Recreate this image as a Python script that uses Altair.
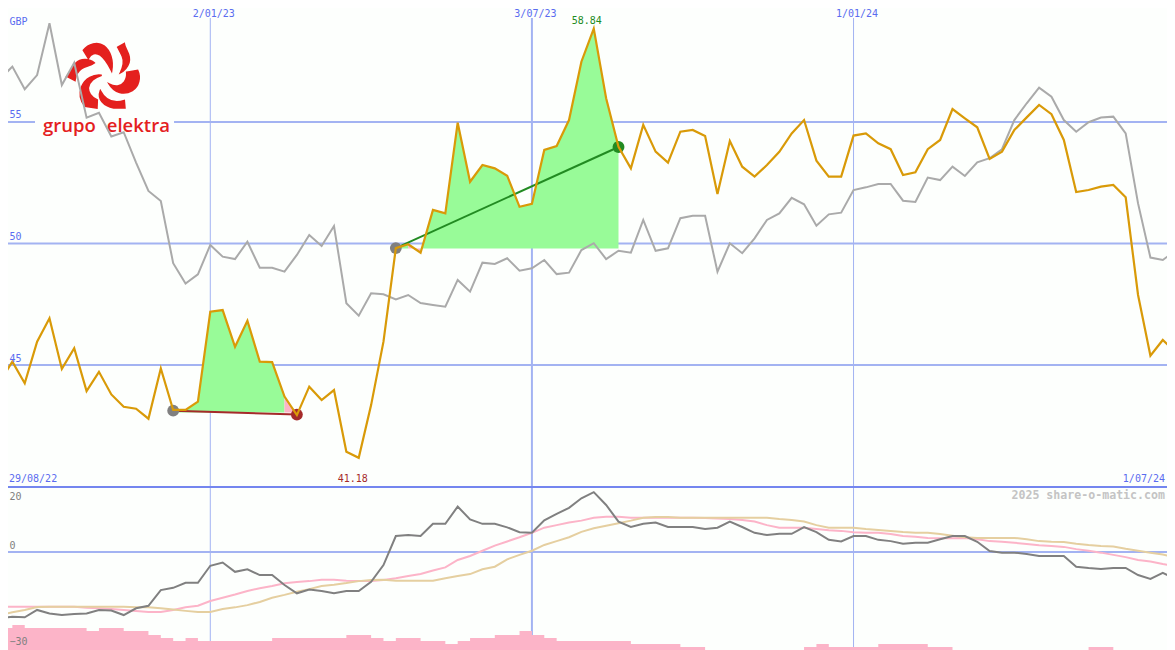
import altair as alt
import pandas as pd

FIRST_WEEK = "2022-09-05"
WEEKS = 96

price = [44.31,45.14,44.25,45.96,46.92,44.84,45.69,43.93,44.72,43.79,43.28,43.20,42.79,44.86,43.15,43.15,43.49,47.19,47.26,45.75,
         46.82,45.14,45.12,43.70,42.94,44.11,43.56,43.97,41.43,41.18,43.35,45.96,49.81,49.97,49.62,51.38,51.24,54.97,52.54,53.23,
         53.09,52.79,51.51,51.63,53.85,54.01,55.08,57.48,58.84,55.98,53.98,53.09,54.88,53.78,53.33,54.60,54.67,54.42,52.04,54.22,
         53.16,52.75,53.23,53.77,54.53,55.08,53.41,52.75,52.75,54.44,54.53,54.12,53.88,52.82,52.93,53.88,54.26,55.53,55.15,54.78,
         53.48,53.78,54.67,55.19,55.70,55.32,54.26,52.12,52.20,52.34,52.41,51.90,47.88,45.38,46.03,45.55]
index_line = [56.76,57.28,56.35,56.93,59.06,56.52,57.44,55.18,55.38,54.40,54.58,53.33,52.16,51.75,49.19,48.35,48.73,49.94,49.46,49.36,
              50.07,49.00,49.00,48.84,49.53,50.35,49.90,50.72,47.54,47.03,47.95,47.91,47.70,47.88,47.55,47.47,47.40,48.50,48.02,49.21,
              49.16,49.39,48.88,48.98,49.32,48.74,48.80,49.73,50.01,49.36,49.70,49.62,50.97,49.70,49.80,51.04,51.14,51.14,48.84,50.01,
              49.60,50.21,50.97,51.24,51.88,51.61,50.73,51.20,51.27,52.20,52.31,52.45,52.45,51.76,51.71,52.71,52.61,53.16,52.78,53.34,
              53.51,53.88,55.08,55.77,56.41,56.04,55.08,54.60,54.99,55.18,55.22,54.53,51.65,49.42,49.32,49.70]
momentum = [-20.7,-20.2,-20.4,-18.1,-19.2,-19.7,-19.4,-19.2,-18.1,-18.3,-19.7,-17.6,-16.8,-11.9,-11.2,-9.6,-9.6,-4.3,-3.3,-6.2,
            -5.4,-7.2,-7.2,-10.3,-12.9,-11.7,-12.2,-12.9,-12.2,-12.2,-9.3,-4.1,5.0,5.3,5.0,8.8,8.8,14.2,10.2,8.8,
            8.8,7.7,6.2,6.0,9.9,11.9,13.8,16.8,18.7,14.7,9.5,7.8,8.8,9.2,7.8,7.8,7.8,7.2,7.6,9.5,
            7.8,6.0,5.3,5.7,5.7,7.8,6.2,3.8,3.3,5.0,5.0,3.8,3.4,2.6,2.9,2.9,4.0,5.0,5.0,3.2,
            0.3,-0.2,-0.2,-0.6,-1.25,-1.25,-1.25,-4.6,-5.0,-5.3,-5.0,-5.0,-7.2,-8.4,-6.5,-8.4]
ma_pink = [-17.1,-17.1,-17.1,-17.1,-17.1,-17.1,-17.1,-17.4,-17.6,-17.8,-18.1,-18.4,-18.75,-18.75,-18.1,-17.3,-16.8,-15.3,-14.3,-13.3,
           -12.2,-11.3,-10.6,-9.8,-9.4,-9.1,-8.7,-8.7,-9.0,-9.1,-9.1,-8.75,-8.2,-7.5,-6.9,-5.8,-4.8,-2.5,-1.25,0.4,
           2.0,3.3,4.6,6.0,7.6,8.4,9.2,9.8,10.7,11.0,11.0,10.7,10.7,10.7,10.7,10.7,10.7,10.6,10.5,10.3,
           10.0,9.5,8.4,7.6,7.6,7.6,7.2,6.8,6.6,6.2,6.0,6.0,5.6,5.0,4.8,4.4,4.3,4.3,4.4,4.0,
           3.4,3.2,2.9,2.5,2.1,1.9,1.6,0.9,0.4,-0.2,-0.9,-1.6,-2.5,-3.0,-3.75,-4.4]
ma_tan = [-19.7,-18.8,-18.1,-17.2,-17.1,-17.1,-17.1,-17.1,-17.1,-17.1,-17.1,-17.3,-17.3,-17.6,-18.0,-18.4,-18.75,-18.75,-17.8,-17.3,
          -16.6,-15.6,-14.3,-13.4,-12.4,-11.6,-10.6,-10.2,-9.7,-9.1,-8.75,-8.7,-9.0,-9.0,-9.0,-9.0,-8.2,-7.5,-6.9,-5.4,
          -4.6,-2.3,-0.9,0.4,2.2,3.4,4.6,6.3,7.4,8.2,9.0,9.8,10.7,10.9,10.9,10.7,10.7,10.7,10.7,10.7,
          10.7,10.7,10.7,10.3,10.0,9.5,8.4,7.6,7.6,7.6,7.2,6.9,6.6,6.25,6.0,6.0,5.6,5.1,4.6,4.4,
          4.4,4.4,4.4,4.0,3.4,3.2,3.1,2.6,2.2,1.9,1.7,1.0,0.4,-0.2,-0.8,-1.6]
volume = [7.3,8.3,7.3,7.3,7.3,7.3,7.3,6.3,7.3,7.3,6.3,6.3,5,4,3,4,3,3,3,3,
          3,3,4,4,4,4,4,4,5,5,4,3,4,4,3,3,2,3,4,4,
          5,5,6.3,5,4,3,3,3,3,3,3,2,2,2,2,1,1,0,0,0,
          0,0,0,0,0,1,2,1,1,1,1,2,2,2,2,1,1,0,0,0,
          0,0,0,0,0,0,0,0,1,1,0,0,0,0,0,0]

month_ticks = ["2023-01-02", "2023-07-03", "2024-01-01"]
price_ticks = [55, 50, 45]
momentum_ticks = [20, 0, -30]

COL_LABEL = "#5a6cf0"
COL_GRID = "#a3b3f2"
COL_SEP = "#7486ef"
COL_ORANGE = "#d99a08"
COL_GREY = "#aaaaaa"
COL_DARK = "#808080"
COL_PINK = "#fcb4c8"
COL_TAN = "#e5cfa0"
COL_FILL = "#98fb98"
COL_RED = "#a52a2a"
COL_GREEN = "#228b22"
COL_LOGO = "#e4201e"
BG = "#fdfffd"
MONO = "DejaVu Sans Mono"

PRICE_MIN, PRICE_MAX = 39.98, 59.69
MOM_MIN, MOM_MAX = -30.625, 20.0
W, H, SPLIT = 1159, 642, 479
WEEK_START, WEEK_END = 0.647, 94.34


def at(week):
    t = pd.Timestamp(FIRST_WEEK) + pd.Timedelta(days=7 * week)
    return t.strftime("%Y-%m-%dT%H:%M:%SZ")


dates = [at(i) for i in range(WEEKS)]
frame = pd.DataFrame({"date": dates, "price": price, "index_line": index_line,
                      "momentum": momentum, "ma_pink": ma_pink, "ma_tan": ma_tan,
                      "volume": volume})

x_scale = alt.Scale(type="utc", domain=[at(WEEK_START), at(WEEK_END)])
X = alt.X("date:T", scale=x_scale, axis=None)
x_axis = alt.Axis(orient="top", values=[m + "T00:00:00Z" for m in month_ticks], format="%-d/%m/%y",
                  labelColor=COL_LABEL, labelFont=MONO, labelFontSize=10, labelPadding=-10,
                  labelOffset=3, labelOverlap=False, domain=False, ticks=False, grid=False, title=None,
                  labelFlush=False, zindex=1)
price_scale = alt.Scale(domain=[PRICE_MIN, PRICE_MAX], range=[SPLIT, 0], nice=False, zero=False)
mom_scale = alt.Scale(domain=[MOM_MIN, MOM_MAX], range=[H, SPLIT + 1], nice=False, zero=False)


def Yp(field):
    return alt.Y(field, type="quantitative", scale=price_scale, axis=None)


def Ym(field):
    return alt.Y(field, type="quantitative", scale=mom_scale, axis=None)


# -------- price panel --------
vert = pd.DataFrame({"date": [m + "T00:00:00Z" for m in month_ticks],
                     "top": 59.28, "bot": PRICE_MIN, "mtop": MOM_MAX, "mbot": MOM_MIN})
horiz = pd.DataFrame({"v": price_ticks})

axes_layer = alt.Chart(frame).mark_line(opacity=0).encode(
    x=alt.X("date:T", scale=x_scale, axis=x_axis),
    y=alt.Y("price:Q", scale=price_scale,
            axis=alt.Axis(orient="left", values=price_ticks, labelAlign="left", labelBaseline="bottom",
                          labelPadding=-1, labelOffset=-2, labelColor=COL_LABEL, labelFont=MONO,
                          labelFontSize=10, domain=False, ticks=False, grid=False, labelFlush=False,
                          title="GBP", titleAngle=0, titleAlign="left", titleBaseline="middle",
                          titleX=1, titleY=13, titleColor=COL_LABEL, titleFont=MONO,
                          titleFontSize=10, titleFontWeight="normal", zindex=1)),
)
vthin = alt.Chart(vert[vert.index != 1]).mark_rule(color=COL_GRID, size=1).encode(x=X, y=Yp("top"), y2="bot:Q")
vthick = alt.Chart(vert[vert.index == 1]).mark_rule(color=COL_GRID, size=2).encode(x=X, y=Yp("top"), y2="bot:Q")
hrules = alt.Chart(horiz).mark_rule(color=COL_GRID, size=2).encode(y=Yp("v"))
sep = alt.Chart(pd.DataFrame({"v": [PRICE_MIN]})).mark_rule(color=COL_SEP, size=2).encode(y=Yp("v"))

logo_box = alt.Chart(pd.DataFrame({"a": [at(2.83)], "b": [at(14.07)], "lo": [54.7], "hi": [55.3]})).mark_rect(
    color=BG).encode(x=alt.X("a:T", scale=x_scale, axis=None), x2="b:T", y=Yp("lo"), y2="hi:Q")

blades = (
    "M145,37 C160,18 188,10 207,24 C226,38 236,68 230,100 C222,84 214,66 196,52 C182,43 168,46 160,62 Z "
    "M248,28 L268,17 C270,35 290,50 282,75 C277,90 266,100 256,105 C265,86 268,70 262,56 C258,46 252,36 248,28 Z "
    "M275,103 L308,97 C318,118 312,146 292,158 C268,172 238,166 222,138 C240,148 258,146 268,132 C274,124 276,114 275,103 Z "
    "M196,158 C186,184 206,205 236,210 L270,210 L268,188 C245,195 215,195 196,158 Z "
    "M200,112 C176,108 150,122 140,146 C132,168 136,190 150,205 L186,211 L187,186 C170,178 160,165 160,150 C162,132 180,118 200,112 Z "
    "M178,75 C162,60 136,62 122,76 C112,86 108,100 95,115 L120,128 C122,112 128,100 140,92 C152,84 166,84 178,75 Z"
)
logo_anchor = pd.DataFrame({"date": [at(35 / 12.37)], "v": [58.46]})
logo_mark = alt.Chart(logo_anchor).mark_point(shape=blades, size=4 / 9, filled=True, fill=COL_LOGO, stroke=COL_LOGO,
                                              opacity=1, strokeWidth=1.5).encode(x=X, y=Yp("v"))
logo_words = pd.DataFrame({"date": [at(3.48), at(8.63)], "v": [54.59, 54.59], "t": ["grupo", "elektra"]})
logo_text = alt.Chart(logo_words).mark_text(font="Open Sans", fontSize=18.5, fontWeight=600, align="left",
                                            baseline="alphabetic", color=COL_LOGO).encode(x=X, y=Yp("v"), text="t:N")

segments = []
for name, base, lo, hi in [("g1", 43.05, 14, 23), ("g2", 49.79, 32, 33), ("g3", 49.79, 34, 50),
                           ("p1", 43.05, 23, 24), ("p2", 49.79, 33, 34)]:
    for i in range(lo, hi + 1):
        segments.append({"seg": name, "date": dates[i], "price": price[i], "base": base})
seg = pd.DataFrame(segments)
green_area = alt.Chart(seg[seg.seg.str.startswith("g")]).mark_area(color=COL_FILL, opacity=1).encode(
    x=X, y=Yp("price"), y2="base:Q", detail="seg:N")
pink_area = alt.Chart(seg[seg.seg.str.startswith("p")]).mark_area(color=COL_PINK, opacity=1).encode(
    x=X, y=Yp("price"), y2="base:Q", detail="seg:N")

trend_down = pd.DataFrame({"date": [dates[14], dates[24]], "v": [43.12, 42.96]})
trend_up = pd.DataFrame({"date": [dates[32], dates[50]], "v": [49.81, 53.97]})
t_down = alt.Chart(trend_down).mark_line(color=COL_RED, strokeWidth=2).encode(x=X, y=Yp("v"))
t_up = alt.Chart(trend_up).mark_line(color=COL_GREEN, strokeWidth=2).encode(x=X, y=Yp("v"))


def dot(df, row, col):
    return alt.Chart(df.iloc[[row]]).mark_circle(color=col, size=140, opacity=1).encode(x=X, y=Yp("v"))


grey_line = alt.Chart(frame).mark_line(color=COL_GREY, strokeWidth=2).encode(x=X, y=Yp("index_line"))
orange_line = alt.Chart(frame).mark_line(color=COL_ORANGE, strokeWidth=2.2).encode(x=X, y=Yp("price"))


def label(date, value, text, col, align="center", dx=0):
    df = pd.DataFrame({"date": [date], "v": [value], "t": [text]})
    return alt.Chart(df).mark_text(font=MONO, fontSize=10, color=col, align=align, baseline="middle", dx=dx).encode(
        x=X, y=Yp("v"), text="t:N")


# -------- momentum panel --------
hist = alt.Chart(frame).mark_area(color=COL_PINK, opacity=1, interpolate="step-after").encode(
    x=X, y=alt.Y("volume:Q", scale=alt.Scale(domain=[0, 54], range=[H, SPLIT + 1], nice=False), axis=None))
mom_axes = alt.Chart(frame).mark_line(opacity=0).encode(
    x=X,
    y=alt.Y("momentum:Q", scale=mom_scale,
            axis=alt.Axis(orient="left", values=momentum_ticks, labelAlign="left",
                          labelBaseline=alt.expr("datum.value == 20 ? 'top' : 'bottom'"),
                          labelOffset=alt.expr("datum.value == 20 ? 3 : -2"),
                          labelPadding=-1, labelColor=COL_DARK, labelFont=MONO,
                          labelFontSize=10, domain=False, ticks=False, grid=False, labelFlush=False,
                          title=None, zindex=1)),
)
v2thin = alt.Chart(vert[vert.index != 1]).mark_rule(color=COL_GRID, size=1).encode(x=X, y=Ym("mtop"), y2="mbot:Q")
v2thick = alt.Chart(vert[vert.index == 1]).mark_rule(color=COL_GRID, size=2).encode(x=X, y=Ym("mtop"), y2="mbot:Q")
zero_rule = alt.Chart(pd.DataFrame({"v": [0]})).mark_rule(color=COL_GRID, size=2).encode(y=Ym("v"))
pink_line = alt.Chart(frame).mark_line(color=COL_PINK, strokeWidth=2).encode(x=X, y=Ym("ma_pink"))
tan_line = alt.Chart(frame).mark_line(color=COL_TAN, strokeWidth=2).encode(x=X, y=Ym("ma_tan"))
dark_line = alt.Chart(frame).mark_line(color=COL_DARK, strokeWidth=2).encode(x=X, y=Ym("momentum"))
credit = alt.Chart(pd.DataFrame({"date": [at(WEEK_END)], "v": [17.5], "t": ["2025 share-o-matic.com"]})).mark_text(
    font=MONO, fontSize=11.6, fontWeight="bold", color="#c4c4c4", align="right", baseline="middle", dx=-2).encode(
    x=X, y=Ym("v"), text="t:N")

chart = alt.layer(
    v2thin, v2thick, zero_rule, hist, mom_axes, pink_line, tan_line, dark_line, credit,
    axes_layer, vthin, vthick, hrules, sep, logo_box, logo_mark, logo_text,
    green_area, pink_area, grey_line, t_down, t_up,
    dot(trend_down, 0, COL_DARK), dot(trend_up, 0, COL_DARK),
    dot(trend_down, 1, COL_RED), dot(trend_up, 1, COL_GREEN),
    orange_line,
    label(at(WEEK_START), 40.31, "29/08/22", COL_LABEL, "left", 1),
    label(at(WEEK_END), 40.31, "1/07/24", COL_LABEL, "right", -2),
    label(dates[29], 40.31, "41.18", COL_RED, "center", -6),
    label(dates[48], 59.16, "58.84", COL_GREEN, "center", -7),
).resolve_scale(y="independent").resolve_axis(x="independent", y="independent").properties(
    width=W, height=H, padding=0, background=BG, autosize=alt.AutoSizeParams(type="none")
).configure_view(stroke=None)

chart.save("out.html", embed_options={"renderer": "svg", "actions": False})
